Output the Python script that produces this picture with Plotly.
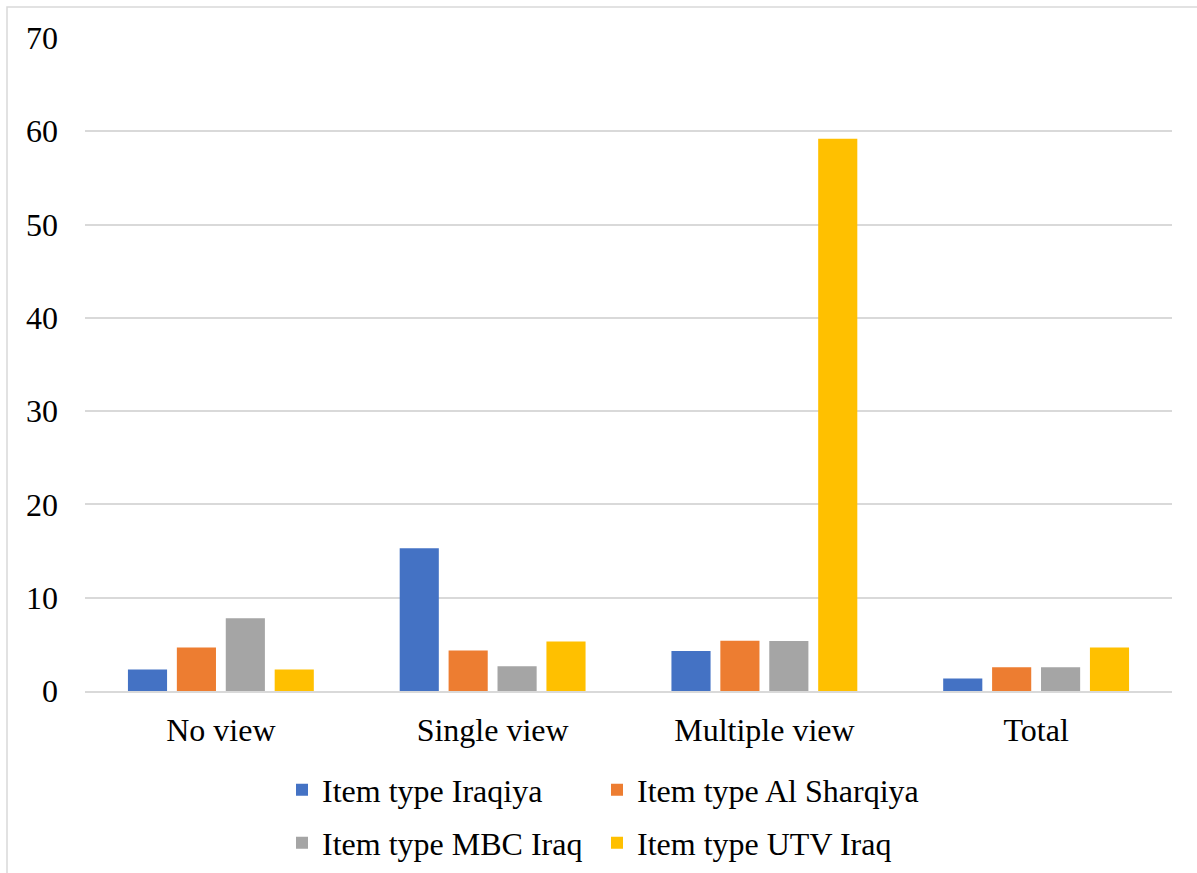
import plotly.graph_objects as go

# Viewing categories and channel series (percent)
categories = ["No view", "Single view", "Multiple view", "Total"]
iraqiya = [2.3, 15.3, 4.3, 1.35]
al_sharqiya = [4.65, 4.35, 5.4, 2.55]
mbc_iraq = [7.8, 2.65, 5.35, 2.55]
utv_iraq = [2.3, 5.3, 59.2, 4.65]

series_names = ["Item type Iraqiya", "Item type Al Sharqiya",
                "Item type MBC Iraq", "Item type UTV Iraq"]
series_values = [iraqiya, al_sharqiya, mbc_iraq, utv_iraq]
series_colors = ["#4472C4", "#ED7D31", "#A5A5A5", "#FFC000"]

y_ticks = [0, 10, 20, 30, 40, 50, 60, 70]

FONT = "Liberation Serif, Times New Roman, serif"
FS = 32

W, H = 1197, 873
L, R, T, B = 85, 25, 38, 182
pw, ph = W - L - R, H - T - B


def px_x(p):
    return (p - L) / pw


def px_y(p):
    return (H - B - p) / ph


# one legend box per series, laid out as a 2 x 2 grid (pixel anchors)
legend_ids = ["legend", "legend2", "legend3", "legend4"]
legend_anchor_px = [(282, 790), (597, 790), (282, 843), (597, 843)]

fig = go.Figure()
for name, vals, color, lg in zip(series_names, series_values, series_colors, legend_ids):
    fig.add_trace(go.Bar(
        x=categories, y=vals, name=name,
        marker=dict(color=color, line=dict(width=0)),
        legend=lg, showlegend=True,
    ))

legend_layout = {}
for lg, (lx, ly) in zip(legend_ids, legend_anchor_px):
    legend_layout[lg] = dict(
        orientation="h",
        font=dict(family=FONT, size=FS, color="#000000"),
        x=px_x(lx), xanchor="left",
        y=1 - ly / H, yanchor="middle", yref="container",
        bgcolor="rgba(0,0,0,0)",
        visible=True,
    )

fig.update_layout(
    width=W, height=H,
    showlegend=True,
    margin=dict(l=L, r=R, t=T, b=B, pad=0),
    paper_bgcolor="white",
    plot_bgcolor="white",
    barmode="group",
    bargap=0.28,
    bargroupgap=0.2,
    font=dict(family=FONT, size=FS, color="#000000"),
    xaxis=dict(
        showgrid=False,
        showline=True, linecolor="#D9D9D9", linewidth=2,
        ticks="", tickfont=dict(family=FONT, size=FS, color="#000000"),
        ticklabelstandoff=10,
        automargin=False,
    ),
    yaxis=dict(
        range=[0, 70],
        tickvals=y_ticks,
        showgrid=True, gridcolor="#D9D9D9", gridwidth=1.5,
        zeroline=False, showline=False, ticks="",
        tickfont=dict(family=FONT, size=FS, color="#000000"),
        ticklabelstandoff=26,
        automargin=False,
    ),
    shapes=[dict(
        type="rect", xref="paper", yref="paper",
        x0=px_x(7), x1=px_x(1210), y0=px_y(890), y1=px_y(7),
        line=dict(color="#D9D9D9", width=1.5),
        fillcolor="rgba(0,0,0,0)", layer="below",
    )],
    **legend_layout,
)

fig.write_html("out.html")
